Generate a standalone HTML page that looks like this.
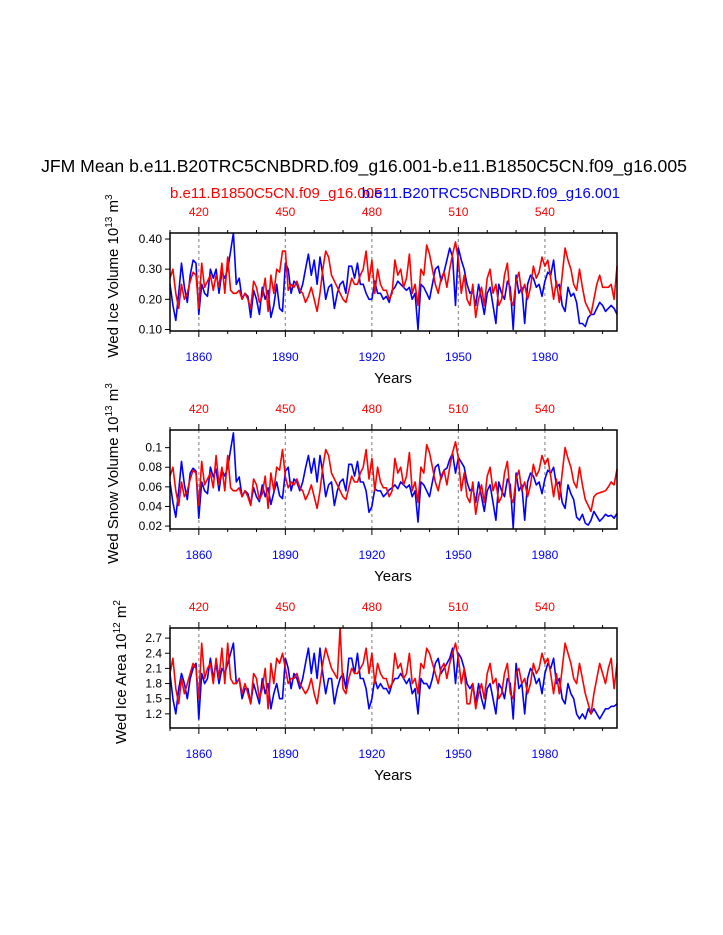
<!DOCTYPE html>
<html><head><meta charset="utf-8">
<style>
html,body{margin:0;padding:0;background:#fff;}
svg{display:block;font-family:"Liberation Sans",sans-serif;}
</style></head>
<body>
<svg id="chart" width="723" height="935" viewBox="0 0 723 935" xmlns="http://www.w3.org/2000/svg">
<text x="364" y="172" font-size="17.6" text-anchor="middle" fill="#000">JFM Mean b.e11.B20TRC5CNBDRD.f09_g16.001-b.e11.B1850C5CN.f09_g16.005</text>
<text x="170" y="198" font-size="15" fill="#f00">b.e11.B1850C5CN.f09_g16.005</text>
<text x="620" y="198" font-size="15" text-anchor="end" fill="#00f">b.e11.B20TRC5CNBDRD.f09_g16.001</text>
</svg>
<script>
const years = [];
for (let y = 1850; y <= 2005; y++) years.push(y);
const bottomTicks = [1860, 1890, 1920, 1950, 1980];
const topTicks = [420, 450, 480, 510, 540];

const iceVolBlue = [.25,.18,.13,.22,.32,.24,.19,.28,.33,.32,
.15,.25,.22,.21,.30,.27,.30,.22,.29,.27,
.30,.36,.42,.25,.27,.20,.22,.21,.14,.23,
.20,.15,.24,.20,.23,.14,.18,.25,.17,.16,
.32,.30,.22,.26,.25,.22,.25,.30,.35,.28,
.33,.25,.34,.28,.20,.24,.25,.17,.22,.25,
.26,.22,.31,.31,.27,.32,.25,.25,.22,.20,
.20,.26,.22,.22,.20,.21,.19,.23,.24,.26,
.25,.24,.23,.24,.20,.22,.10,.25,.24,.22,
.20,.25,.30,.31,.26,.29,.33,.37,.34,.18,
.37,.33,.30,.25,.22,.23,.18,.25,.20,.15,
.22,.24,.18,.12,.25,.22,.20,.26,.24,.10,
.28,.22,.24,.12,.25,.28,.27,.24,.25,.21,
.26,.29,.28,.33,.24,.25,.18,.16,.24,.21,
.22,.19,.12,.12,.11,.14,.15,.15,.17,.19,
.18,.16,.17,.18,.17,.15];
const iceVolRed = [.27,.30,.22,.17,.25,.20,.22,.26,.29,.28,
.17,.32,.24,.26,.28,.23,.28,.24,.32,.22,
.34,.23,.22,.22,.23,.20,.22,.20,.17,.26,
.24,.19,.21,.27,.16,.28,.22,.30,.29,.36,
.36,.23,.25,.24,.26,.23,.22,.19,.21,.24,
.20,.16,.22,.30,.36,.34,.28,.26,.24,.22,
.20,.19,.23,.27,.25,.25,.28,.30,.36,.26,
.33,.22,.30,.25,.23,.23,.20,.22,.33,.28,
.30,.24,.27,.35,.22,.25,.18,.30,.28,.38,
.35,.30,.25,.22,.27,.29,.24,.30,.35,.39,
.33,.22,.28,.20,.18,.25,.14,.20,.24,.18,
.27,.30,.22,.25,.18,.20,.28,.32,.20,.18,
.26,.29,.22,.25,.20,.24,.31,.27,.29,.34,
.31,.33,.27,.20,.26,.19,.28,.37,.33,.30,
.25,.23,.30,.24,.19,.17,.15,.20,.25,.28,
.24,.24,.24,.25,.20,.31];
const snowBlue = [.065,.044,.029,.056,.086,.062,.047,.074,.079,.076,
.028,.065,.056,.053,.080,.070,.078,.056,.077,.071,
.080,.098,.115,.065,.070,.050,.056,.053,.042,.059,
.050,.045,.062,.050,.059,.042,.054,.065,.051,.048,
.076,.080,.056,.068,.065,.056,.065,.079,.092,.074,
.089,.065,.092,.074,.050,.062,.065,.041,.056,.065,
.068,.056,.083,.083,.071,.086,.065,.065,.056,.034,
.040,.058,.056,.056,.050,.053,.057,.059,.062,.058,
.065,.062,.059,.062,.050,.056,.024,.065,.062,.056,
.050,.065,.080,.083,.068,.077,.079,.088,.094,.074,
.090,.085,.080,.065,.056,.059,.044,.065,.050,.035,
.056,.062,.044,.026,.065,.056,.050,.068,.062,.018,
.074,.056,.062,.026,.065,.074,.071,.062,.065,.053,
.068,.077,.074,.080,.062,.065,.044,.038,.062,.053,
.047,.029,.026,.032,.023,.021,.026,.035,.030,.025,
.028,.032,.030,.031,.028,.033];
const snowRed = [.071,.080,.056,.041,.065,.050,.056,.068,.077,.074,
.041,.086,.062,.068,.074,.059,.092,.062,.080,.056,
.092,.059,.056,.056,.059,.050,.056,.050,.041,.068,
.062,.047,.053,.071,.038,.074,.056,.080,.077,.098,
.070,.059,.065,.062,.068,.059,.056,.047,.053,.062,
.050,.038,.056,.080,.098,.092,.074,.068,.062,.056,
.050,.047,.059,.071,.065,.065,.074,.080,.098,.068,
.089,.056,.080,.065,.059,.059,.050,.056,.089,.074,
.080,.062,.071,.095,.056,.065,.044,.080,.074,.103,
.095,.080,.065,.056,.071,.077,.062,.080,.095,.106,
.089,.056,.074,.050,.044,.065,.032,.050,.062,.044,
.071,.080,.056,.065,.044,.050,.074,.086,.050,.044,
.068,.077,.056,.065,.050,.062,.083,.071,.077,.092,
.083,.089,.071,.050,.068,.047,.074,.100,.089,.080,
.065,.059,.080,.062,.047,.041,.035,.050,.053,.054,
.055,.056,.060,.065,.062,.078];
const areaBlue = [2.0,1.5,1.2,1.7,2.0,1.8,1.5,1.9,2.1,2.2,
1.1,2.0,1.8,1.9,2.3,1.9,2.2,1.8,2.1,2.0,
2.2,2.4,2.6,1.8,1.9,1.5,1.7,1.7,1.4,1.8,
1.6,1.4,1.9,1.6,1.8,1.3,1.6,1.8,1.5,1.5,
2.3,2.1,1.7,2.0,1.9,1.7,1.9,2.2,2.5,2.0,
2.4,1.9,2.5,2.0,1.6,1.9,1.9,1.4,1.7,1.9,
2.0,1.7,2.3,2.3,2.0,2.4,1.9,1.9,1.7,1.3,
1.5,1.9,1.7,1.8,1.7,1.7,1.6,1.8,1.9,1.9,
2.0,1.9,1.8,1.9,1.6,1.7,1.2,1.9,1.8,1.8,
1.7,1.9,2.2,2.3,2.0,2.1,2.2,2.3,2.5,1.8,
2.4,2.3,2.1,1.8,1.7,1.8,1.4,1.8,1.5,1.3,
1.7,1.8,1.5,1.2,1.8,1.7,1.5,1.9,1.8,1.1,
2.2,1.7,1.8,1.2,1.9,2.1,2.0,1.8,1.9,1.6,
2.0,2.2,2.1,2.3,1.8,1.9,1.5,1.4,1.8,1.6,
1.5,1.2,1.1,1.2,1.1,1.3,1.2,1.3,1.2,1.1,
1.2,1.3,1.3,1.35,1.35,1.4];
const areaRed = [2.0,2.3,1.7,1.4,1.9,1.6,1.8,2.0,2.2,2.1,
1.5,2.6,1.9,2.1,2.2,1.8,2.3,1.9,2.5,1.8,
2.6,1.9,1.8,1.8,1.9,1.6,1.8,1.6,1.4,2.0,
1.9,1.5,1.7,2.1,1.3,2.2,1.8,2.3,2.2,2.4,
2.1,1.8,1.9,1.9,2.0,1.8,1.7,1.6,1.7,1.9,
1.6,1.4,1.8,2.2,2.5,2.3,2.1,2.0,1.9,2.9,
1.7,1.6,1.9,2.1,2.0,2.0,2.1,2.2,2.5,2.0,
2.4,1.8,2.2,2.0,1.9,1.9,1.7,1.8,2.4,2.1,
2.2,1.9,2.0,2.4,1.8,1.9,1.6,2.2,2.1,2.5,
2.4,2.2,2.0,1.8,2.1,2.2,1.9,2.2,2.4,2.6,
2.3,1.8,2.1,1.4,1.4,1.8,1.3,1.6,1.8,1.5,
2.0,2.2,1.8,1.9,1.5,1.6,2.0,2.2,1.6,1.5,
2.0,2.1,1.8,1.9,1.6,1.8,2.2,2.0,2.1,2.4,
2.2,2.3,2.0,1.6,2.0,1.6,2.1,2.6,2.4,2.2,
1.9,1.8,2.2,1.9,1.6,1.4,1.2,1.6,1.9,2.2,
2.0,1.8,2.1,2.3,1.7,2.2];

const volTicks = [0.10, 0.20, 0.30, 0.40];
const volLabels = ["0.10", "0.20", "0.30", "0.40"];
const snowTicks = [0.02, 0.04, 0.06, 0.08, 0.10];
const snowLabels = ["0.02", "0.04", "0.06", "0.08", "0.1"];
const areaTicks = [1.2, 1.5, 1.8, 2.1, 2.4, 2.7];
const areaLabels = ["1.2", "1.5", "1.8", "2.1", "2.4", "2.7"];

const NS = "http://www.w3.org/2000/svg";
const svg = document.getElementById("chart");
const X0 = 170, X1 = 617, YR0 = 1850, YR1 = 2005;
function xScale(yr) { return X0 + (yr - YR0) / (YR1 - YR0) * (X1 - X0); }
function mk(tag, attrs, parent) {
  const e = document.createElementNS(NS, tag);
  for (const k in attrs) e.setAttribute(k, attrs[k]);
  (parent || svg).appendChild(e);
  return e;
}

function panel(id, top, bot, ymin, ymax, ticks, labels, blue, red, titleParts) {
  const g = mk("g", {});
  
  
  const yScale = v => bot - (v - ymin) / (ymax - ymin) * (bot - top);
  bottomTicks.forEach(t => {
    const l = mk("line", {x1: xScale(t), x2: xScale(t), y1: top, y2: bot, stroke: "#999", "stroke-width": 1.3, "stroke-dasharray": "3,3"}, g);
    
    
  });
  [[blue, "#00f", "experiment"], [red, "#f00", "control"]].forEach(([arr, col, nm]) => {
    const pts = arr.map((v, i) => xScale(years[i]).toFixed(1) + "," + yScale(v).toFixed(1)).join(" ");
    const p = mk("polyline", {points: pts, fill: "none", stroke: col, "stroke-width": 1.6, "stroke-linejoin": "round"}, g);
    
    
  });
  const fr = mk("rect", {x: X0, y: top, width: X1 - X0, height: bot - top, fill: "none", stroke: "#000", "stroke-width": 1.5}, g);
  
  
  for (let yr = 1850; yr <= 2005; yr += 10) {
    const major = (yr - 1860) % 30 === 0;
    const len = major ? 6 : 3;
    mk("line", {x1: xScale(yr), x2: xScale(yr), y1: bot, y2: bot + len, stroke: "#000", "stroke-width": 1}, g);
    mk("line", {x1: xScale(yr), x2: xScale(yr), y1: top, y2: top - len, stroke: "#000", "stroke-width": 1}, g);
  }
  bottomTicks.forEach(t => {
    const tx = mk("text", {x: xScale(t), y: bot + 30, "font-size": 12, "text-anchor": "middle", fill: "#00f"}, g);
    tx.textContent = t;
    
    
  });
  topTicks.forEach((t, i) => {
    const tx = mk("text", {x: xScale(bottomTicks[i]), y: top - 17, "font-size": 12, "text-anchor": "middle", fill: "#f00"}, g);
    tx.textContent = t;
    
    
  });
  ticks.forEach((t, i) => {
    const y = yScale(t);
    mk("line", {x1: X0, x2: X0 - 5, y1: y, y2: y, stroke: "#000", "stroke-width": 1}, g);
    const tx = mk("text", {x: X0 - 8, y: y + 4, "font-size": 12, "text-anchor": "end", fill: "#000"}, g);
    tx.textContent = labels[i];
    
    
  });
  const xt = mk("text", {x: 393, y: bot + 52, "font-size": 15, "text-anchor": "middle", fill: "#000"}, g);
  xt.textContent = "Years";
  
  
  const cy = (top + bot) / 2 - 6;
  const yt = mk("text", {x: 0, y: 0, "font-size": 15, "text-anchor": "middle", fill: "#000", transform: "translate(" + titleParts[3] + "," + cy + ") rotate(-90)"}, g);
  
  
  yt.appendChild(document.createTextNode(titleParts[0]));
  const s1 = mk("tspan", {dy: -6, "font-size": 10}, yt); s1.textContent = titleParts[1];
  const s2 = mk("tspan", {dy: 6}, yt); s2.textContent = " m";
  const s3 = mk("tspan", {dy: -6, "font-size": 10}, yt); s3.textContent = titleParts[2];
}

panel("ice-volume", 233, 331, 0.095, 0.42, volTicks, volLabels, iceVolBlue, iceVolRed, ["Wed Ice Volume 10", "13", "3", 118]);
panel("snow-volume", 430, 529, 0.017, 0.118, snowTicks, snowLabels, snowBlue, snowRed, ["Wed Snow Volume 10", "13", "3", 118]);
panel("ice-area", 628, 728, 0.92, 2.9, areaTicks, areaLabels, areaBlue, areaRed, ["Wed Ice Area 10", "12", "2", 126]);
</script>
</body></html>
